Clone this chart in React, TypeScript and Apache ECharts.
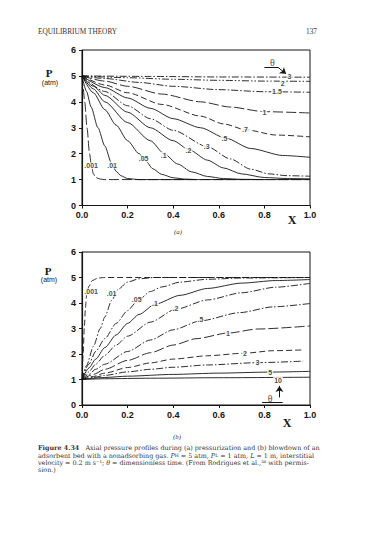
import React, { useEffect, useRef } from "react";
import * as echarts from "echarts";

// ---------- data ----------
const xTickValues = [0, 0.2, 0.4, 0.6, 0.8, 1.0];
const yTickValues = [0, 1, 2, 3, 4, 5, 6];

// (a) pressurization, theta values
const thetaA = [".001", ".01", ".05", ".1", ".2", ".3", ".5", ".7", "1", "1.5", "2", "3"];
const a001 = [[0, 5], [0.005, 4.5], [0.012, 4], [0.022, 3], [0.033, 2], [0.042, 1.5], [0.05, 1.22], [0.06, 1.08], [0.08, 1.02], [0.1, 1], [1, 1]];
const a01 = [[0, 5], [0.02, 4.4], [0.04, 3.8], [0.07, 3.0], [0.1, 2.3], [0.13, 1.62], [0.15, 1.32], [0.17, 1.15], [0.2, 1.04], [0.25, 1.0], [1, 1]];
const a05 = [[0, 5], [0.05, 4.35], [0.1, 3.7], [0.15, 3.1], [0.2, 2.5], [0.25, 2.0], [0.28, 1.72], [0.31, 1.42], [0.35, 1.2], [0.4, 1.07], [0.45, 1.02], [0.5, 1]];
const a1 = [[0, 5], [0.05, 4.5], [0.1, 4.0], [0.2, 3.2], [0.3, 2.5], [0.36, 2.0], [0.42, 1.6], [0.48, 1.3], [0.55, 1.12], [0.62, 1.04], [0.7, 1.01], [0.8, 1]];
const a2 = [[0, 5], [0.05, 4.6], [0.1, 4.25], [0.2, 3.6], [0.3, 3.0], [0.4, 2.5], [0.47, 2.15], [0.55, 1.75], [0.62, 1.45], [0.7, 1.22], [0.8, 1.08], [0.9, 1.04], [1, 1.03]];
const a3 = [[0, 5], [0.1, 4.4], [0.2, 3.85], [0.3, 3.35], [0.4, 2.9], [0.55, 2.27], [0.65, 1.8], [0.74, 1.4], [0.82, 1.22], [0.9, 1.15], [1, 1.13]];
const a5 = [[0, 5], [0.1, 4.55], [0.2, 4.15], [0.3, 3.75], [0.4, 3.35], [0.52, 3.0], [0.63, 2.6], [0.74, 2.2], [0.88, 1.93], [1, 1.86]];
const a7 = [[0, 5], [0.1, 4.65], [0.2, 4.35], [0.35, 3.9], [0.52, 3.45], [0.62, 3.15], [0.72, 2.92], [0.85, 2.72], [1, 2.65]];
const a10 = [[0, 5], [0.1, 4.8], [0.2, 4.6], [0.35, 4.3], [0.52, 4.0], [0.65, 3.8], [0.8, 3.62], [1, 3.57]];
const a15 = [[0, 5], [0.1, 4.9], [0.25, 4.75], [0.4, 4.6], [0.6, 4.47], [0.8, 4.39], [1, 4.37]];
const a20 = [[0, 5], [0.2, 4.93], [0.4, 4.87], [0.6, 4.83], [0.8, 4.8], [1, 4.79]];
const a30 = [[0, 5], [0.3, 4.98], [0.6, 4.96], [1, 4.95]];
const curvesA = [a001, a01, a05, a1, a2, a3, a5, a7, a10, a15, a20, a30];
const labelPosA = [[0.04, 1.53], [0.132, 1.56], [0.27, 1.8], [0.358, 1.93], [0.467, 2.12], [0.547, 2.27], [0.625, 2.6], [0.715, 2.93], [0.8, 3.6], [0.855, 4.38], [0.88, 4.72], [0.91, 4.98]];

// (b) blowdown, theta values
const thetaB = [".001", ".01", ".05", ".1", ".2", ".5", "1", "2", "3", "5", "10"];
const b001 = [[0, 1], [0.005, 2], [0.01, 3], [0.015, 3.8], [0.02, 4.3], [0.03, 4.65], [0.045, 4.88], [0.07, 4.98], [0.1, 5], [1, 5]];
const b01 = [[0, 1], [0.02, 1.55], [0.05, 2.3], [0.08, 3.0], [0.1, 3.45], [0.13, 4.1], [0.16, 4.55], [0.2, 4.82], [0.25, 4.95], [0.32, 5], [1, 5]];
const b05 = [[0, 1], [0.03, 1.6], [0.06, 2.1], [0.1, 2.6], [0.15, 3.2], [0.2, 3.7], [0.24, 4.05], [0.3, 4.45], [0.35, 4.63], [0.43, 4.82], [0.55, 4.93], [0.7, 4.98], [1, 5]];
const b1 = [[0, 1], [0.03, 1.45], [0.06, 1.8], [0.1, 2.25], [0.15, 2.75], [0.2, 3.2], [0.25, 3.55], [0.32, 3.95], [0.43, 4.3], [0.55, 4.57], [0.7, 4.78], [0.85, 4.88], [1, 4.92]];
const b2 = [[0, 1], [0.03, 1.3], [0.06, 1.6], [0.1, 1.95], [0.15, 2.35], [0.2, 2.7], [0.3, 3.25], [0.41, 3.75], [0.55, 4.12], [0.7, 4.4], [0.85, 4.62], [1, 4.77]];
const b5 = [[0, 1], [0.03, 1.2], [0.06, 1.4], [0.1, 1.6], [0.2, 2.1], [0.3, 2.55], [0.4, 2.95], [0.52, 3.3], [0.69, 3.62], [0.84, 3.85], [1, 3.98]];
const b10 = [[0, 1], [0.05, 1.2], [0.1, 1.4], [0.2, 1.75], [0.3, 2.05], [0.4, 2.35], [0.5, 2.6], [0.64, 2.82], [0.77, 2.98], [1, 3.1]];
const b20 = [[0, 1], [0.05, 1.12], [0.1, 1.25], [0.2, 1.47], [0.3, 1.65], [0.4, 1.8], [0.55, 1.93], [0.71, 2.03], [0.84, 2.13], [0.97, 2.16]];
const b30 = [[0, 1], [0.05, 1.08], [0.1, 1.16], [0.2, 1.3], [0.3, 1.4], [0.4, 1.48], [0.55, 1.57], [0.77, 1.66], [0.97, 1.72]];
const b50 = [[0, 1], [0.1, 1.08], [0.2, 1.13], [0.4, 1.2], [0.6, 1.25], [0.82, 1.29], [1, 1.32]];
const b100 = [[0, 1], [0.1, 1.03], [0.3, 1.05], [0.6, 1.07], [1, 1.09]];
const curvesB = [b001, b01, b05, b1, b2, b5, b10, b20, b30, b50, b100];
const labelPosB = [[0.04, 4.44], [0.13, 4.38], [0.24, 4.12], [0.32, 3.99], [0.41, 3.79], [0.52, 3.34], [0.64, 2.81], [0.715, 2.03], [0.77, 1.67], [0.825, 1.29], [0.86, 0.97]];

const captionLines = [
  "{b|Figure 4.34}   Axial pressure profiles during (a) pressurization and (b) blowdown of an",
  "adsorbent bed with a nonadsorbing gas. {i|P}{s|H} = 5 atm, {i|P}{s|L} = 1 atm, {i|L} = 1 m, interstitial",
  "velocity = 0.2 m s⁻¹; {i|θ} = dimensionless time. (From Rodrigues et al.,³⁶ with permis-",
  "sion.)",
];

// ---------- component ----------
const DASH = {
  solid: "solid" as any,
  dash: [6, 3],
  dashdot: [7, 2, 1.5, 2],
  longdash: [10, 3],
  dashdotdot: [7, 2, 1.5, 2, 1.5, 2],
};
const dashA = [DASH.longdash, DASH.solid, DASH.solid, DASH.solid, DASH.solid, DASH.dashdot, DASH.solid, DASH.dash, DASH.longdash, DASH.dashdot, DASH.dashdotdot, DASH.dashdot];
const dashB = [DASH.dash, DASH.dashdot, DASH.dashdot, DASH.solid, DASH.dashdot, DASH.dashdot, DASH.longdash, DASH.dash, DASH.dashdot, DASH.solid, DASH.solid];

export default function App() {
  const ref = useRef<HTMLDivElement>(null);
  useEffect(() => {
    if (!ref.current) return;
    const chart = echarts.init(ref.current, null, { renderer: "svg" });
    const ink = "#151515";
    const tickFont = { fontSize: 9, fontWeight: "bold" as const, fontFamily: "Liberation Sans", color: ink };

    const mkX = (gi: number) => ({
      type: "value", gridIndex: gi, min: 0, max: 1, interval: 0.2,
      axisLine: { show: true, lineStyle: { color: ink, width: 1.2 } },
      axisTick: { show: true, length: 3, lineStyle: { color: ink } },
      splitLine: { show: false },
      axisLabel: { ...tickFont, margin: 5, formatter: (v: number) => v.toFixed(1) },
    });
    const mkY = (gi: number) => ({
      type: "value", gridIndex: gi, min: 0, max: 6, interval: 1,
      axisLine: { show: true, lineStyle: { color: ink, width: 1.2 } },
      axisTick: { show: true, length: 3, lineStyle: { color: ink } },
      splitLine: { show: false },
      axisLabel: { ...tickFont, margin: 6 },
    });

    const series: any[] = [];
    const addCurves = (curves: number[][][], dashes: any[], gi: number) => {
      curves.forEach((c, i) => {
        series.push({
          type: "line", xAxisIndex: gi, yAxisIndex: gi, data: c, showSymbol: false,
          smooth: 0.25, smoothMonotone: "x", silent: true, z: 2,
          lineStyle: { color: ink, width: 0.9, type: dashes[i] },
        });
      });
    };
    addCurves(curvesA, dashA, 0);
    addCurves(curvesB, dashB, 1);

    const addLabels = (pos: number[][], names: string[], gi: number) => {
      series.push({
        type: "scatter", xAxisIndex: gi, yAxisIndex: gi, symbolSize: 0, silent: true, z: 5,
        data: pos.map((p, i) => ({ value: p, name: names[i] })),
        label: {
          show: true, position: "inside", formatter: "{b}", fontSize: 7, fontWeight: "bold",
          fontFamily: "Liberation Sans", color: ink, backgroundColor: "#fff", padding: [0, 1],
        },
      });
    };
    addLabels(labelPosA, thetaA, 0);
    addLabels(labelPosB, thetaB, 1);

    const ml = (segs: number[][][], arrowEnd: boolean[]) => ({
      silent: true, animation: false, symbol: "none",
      label: { show: false },
      lineStyle: { color: ink, width: 1, type: "solid" },
      data: segs.map((s, i) => [
        { coord: s[0], symbol: "none" },
        { coord: s[1], symbol: arrowEnd[i] ? "arrow" : "none", symbolSize: 6 },
      ]),
    });
    // theta annotations
    series.push({
      type: "scatter", xAxisIndex: 0, yAxisIndex: 0, symbolSize: 0, silent: true, z: 6,
      data: [{ value: [0.835, 5.52], name: "θ" }],
      label: { show: true, position: "inside", formatter: "{b}", fontSize: 10, fontFamily: "Liberation Serif", color: ink },
      markLine: ml([[[0.8, 5.33], [0.86, 5.33]], [[0.86, 5.33], [0.895, 5.08]]], [false, true]),
    });
    series.push({
      type: "scatter", xAxisIndex: 1, yAxisIndex: 1, symbolSize: 0, silent: true, z: 6,
      data: [{ value: [0.825, 0.26], name: "θ" }],
      label: { show: true, position: "inside", formatter: "{b}", fontSize: 10, fontFamily: "Liberation Serif", color: ink },
      markLine: ml([[[0.79, 0.1], [0.88, 0.1]], [[0.866, 0.3], [0.866, 0.75]]], [false, true]),
    });

    const txt = (text: string, x: number, y: number, font: string, align = "center", fill = ink, extra: any = {}) => ({
      type: "text", x, y, silent: true,
      style: { text, font, fill, align, verticalAlign: "middle", ...extra },
    });
    const LH = 7.4;
    const CF = "DejaVu Serif";
    const FS = 6.4;
    const capRich = {
      b: { fontWeight: "bold", fontSize: FS, fontFamily: CF, fill: "#333", lineHeight: LH },
      i: { fontStyle: "italic", fontSize: FS, fontFamily: CF, fill: "#333", lineHeight: LH },
      s: { fontSize: 4.6, fontFamily: CF, fill: "#333", lineHeight: LH },
    };

    const graphic: any[] = [
      txt("EQUILIBRIUM THEORY", 38, 31.5, "7.3px 'Liberation Serif'", "left", "#333"),
      txt("137", 317, 31.5, "7.3px 'Liberation Serif'", "right", "#333"),
      txt("P", 49, 73, "bold 11px 'Liberation Serif'"),
      txt("(atm)", 50, 82, "7px 'Liberation Sans'"),
      txt("X", 292, 220, "bold 12px 'Liberation Serif'"),
      txt("(a)", 178, 232, "italic 7px 'Liberation Serif'", "center", "#444"),
      txt("P", 48, 270.5, "bold 11px 'Liberation Serif'"),
      txt("(atm)", 49, 279, "7px 'Liberation Sans'"),
      txt("X", 287, 423, "bold 12px 'Liberation Serif'"),
      txt("(b)", 177, 437, "italic 7px 'Liberation Serif'", "center", "#444"),
      {
        type: "text", x: 38, y: 444.5, silent: true,
        style: {
          text: captionLines.join("\n"), font: `${FS}px '${CF}'`, fill: "#333",
          align: "left", verticalAlign: "top", lineHeight: LH, rich: capRich,
        },
      },
    ];

    chart.setOption({
      animation: false,
      backgroundColor: "#fff",
      grid: [
        { left: 82, top: 50, width: 228, height: 155.5, show: true, borderColor: ink, borderWidth: 1, backgroundColor: "transparent" },
        { left: 82, top: 252, width: 228, height: 153, show: true, borderColor: ink, borderWidth: 1, backgroundColor: "transparent" },
      ],
      xAxis: [mkX(0), mkX(1)],
      yAxis: [mkY(0), mkY(1)],
      series,
      graphic,
    });
    return () => chart.dispose();
  }, []);
  return (
    <div
      ref={ref}
      style={{ position: "fixed", left: 0, top: 0, width: 375, height: 533, background: "#fff" }}
    />
  );
}
